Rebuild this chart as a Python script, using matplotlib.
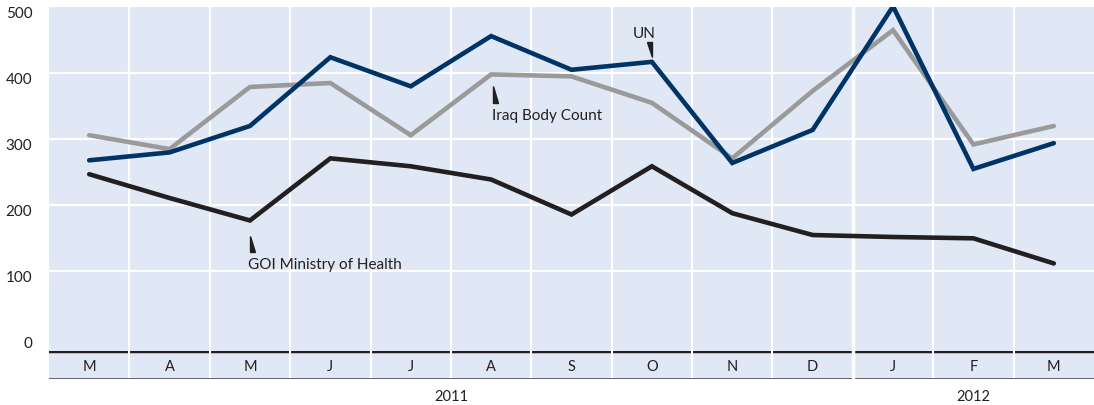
import matplotlib.pyplot as plt
from matplotlib.patches import Polygon
from matplotlib.transforms import ScaledTranslation

plt.rcParams['font.family'] = ['Lato', 'DejaVu Sans']

months = ['M', 'A', 'M', 'J', 'J', 'A', 'S', 'O', 'N', 'D', 'J', 'F', 'M']
years = ['2011', '2012']
year_centers = [4.5, 11]
yticks = [0, 100, 200, 300, 400, 500]

ibc = [306, 285, 379, 385, 306, 398, 395, 355, 271, 373, 465, 292, 320]
un = [268, 280, 320, 424, 380, 456, 405, 417, 264, 314, 501, 255, 294]
goi = [247, 211, 177, 271, 259, 239, 186, 259, 188, 155, 152, 150, 112]

bg = '#E1E8F5'
navy = '#003466'
gray = '#9A9A9A'
dark = '#231F20'

fig = plt.figure(figsize=(10.94, 4.06), dpi=100)
ax = fig.add_axes([49/1094, 54/406, 1045/1094, 344/406])
ax.set_facecolor(bg)
ax.set_xlim(-0.5, 12.5)
ax.set_ylim(-20.5, 500)
for s in ax.spines.values():
    s.set_visible(False)
ax.set_xticks([])
ax.set_yticks([])

for v in [100, 200, 300, 400]:
    ax.axhline(v, color='white', lw=1.5, zorder=1)
for i in range(12):
    ax.axvline(i + 0.5, color='white', lw=1.5 if i != 9 else 2.5, zorder=1)

x = list(range(len(months)))
kw = dict(lw=3.3, solid_joinstyle='miter', solid_capstyle='round', zorder=3)
ax.plot(x, ibc, color=gray, **kw)
ax.plot(x, goi, color=dark, **kw)
ax.plot(x, un, color=navy, **kw)

# y labels sit a little below their gridlines
off = ax.get_yaxis_transform() + ScaledTranslation(0, -6/100, fig.dpi_scale_trans)
for v in yticks:
    ax.text(-0.016, v, str(v), transform=off, ha='right', va='center',
            fontsize=11, color=dark, clip_on=False)

# callouts
tri_w = 0.062
ax.add_patch(Polygon([(2.0, 153.8), (2.0, 129.5), (2.0 + tri_w, 129.5)], color=dark, zorder=4))
ax.text(1.98, 111, 'GOI Ministry of Health', fontsize=11, color=dark, va='center', ha='left', zorder=4)
ax.add_patch(Polygon([(5.025, 381), (5.025, 355), (5.025 + tri_w, 355)], color=dark, zorder=4))
ax.text(5.01, 337, 'Iraq Body Count', fontsize=11, color=dark, va='center', ha='left', zorder=4)
ax.add_patch(Polygon([(7.0, 425), (7.0, 447.7), (7.0 - tri_w, 447.7)], color=dark, zorder=4))
ax.text(6.9, 460, 'UN', fontsize=11, color=dark, va='center', ha='center', zorder=4)

# month band
bx = fig.add_axes([49/1094, 26/406, 1045/1094, 28/406])
bx.set_facecolor(bg)
bx.set_xlim(-0.5, 12.5)
bx.set_ylim(0, 1)
for s in bx.spines.values():
    s.set_visible(False)
bx.set_xticks([])
bx.set_yticks([])
bx.axhline(1, color=dark, lw=2.5, zorder=1)
bx.axhline(0, color='#58585A', lw=2, zorder=3)
for i in range(12):
    bx.axvline(i + 0.5, color='white', lw=1.5 if i != 9 else 2.5,
               zorder=2 if i != 9 else 4)
for i, m in enumerate(months):
    bx.text(i, 0.45, m, ha='center', va='center', fontsize=10.5, color=dark)
for yc, yr in zip(year_centers, years):
    bx.text(yc, -0.6, yr, ha='center', va='center', fontsize=10.5, color=dark)

fig.savefig('out.png', dpi=100)
